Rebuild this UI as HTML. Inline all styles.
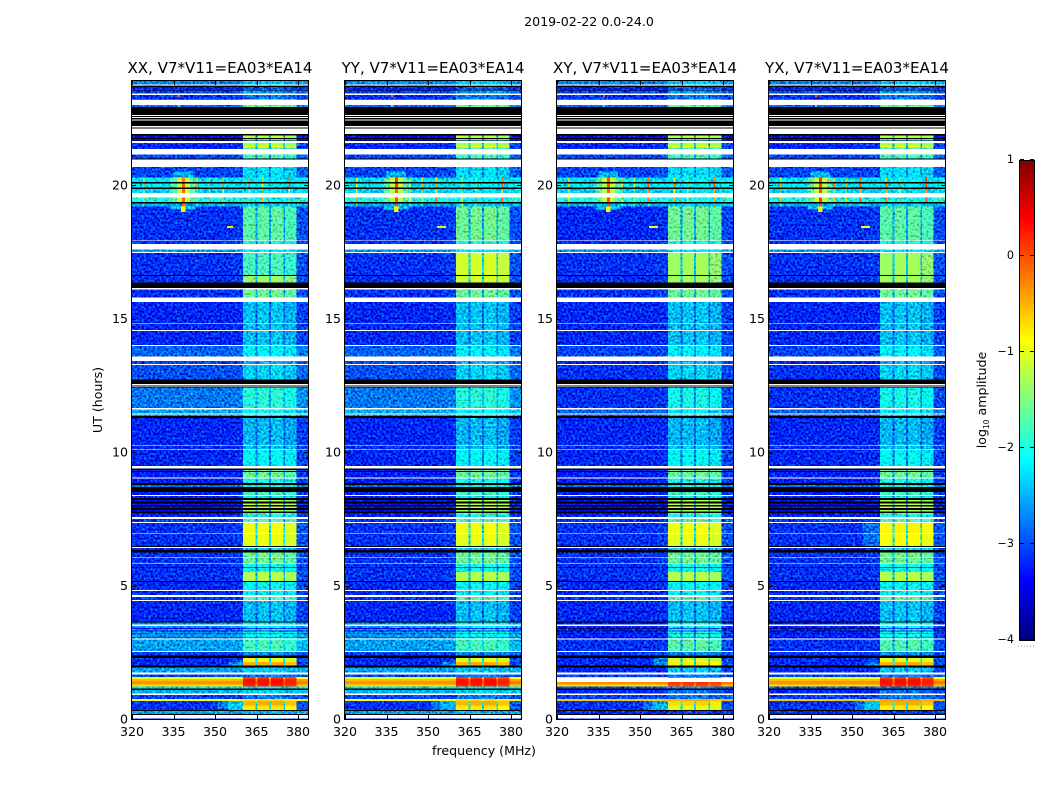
<!DOCTYPE html>
<html lang="en">
<head>
<meta charset="utf-8">
<title>2019-02-22 0.0-24.0</title>
<style>
html,body{margin:0;padding:0;background:#fff;width:1050px;height:800px;overflow:hidden}
svg{display:block}
text{font-family:"DejaVu Sans","Liberation Sans",sans-serif;fill:#000}
</style>
</head>
<body>
<svg id="figure" xmlns="http://www.w3.org/2000/svg" width="1050" height="800" viewBox="0 0 1050 800">
<defs>
<filter id="grain" x="0" y="0" width="100%" height="100%" color-interpolation-filters="sRGB">
<feTurbulence type="fractalNoise" baseFrequency="0.45" numOctaves="1" seed="7" result="n"/>
<feColorMatrix in="n" type="matrix" values="0 0 0 0 0.5  1 0 0 0 0  1 0 0 0 0  0 0 0 0 1" result="m"/>
<feComposite in="SourceGraphic" in2="m" operator="arithmetic" k1="0" k2="1" k3="1.4" k4="-0.7"/>
</filter>
</defs>
<rect width="1050" height="800" fill="#fff"/>
<text x="589" y="26" font-size="12.6" text-anchor="middle">2019-02-22 0.0-24.0</text>
<text x="102" y="400" font-size="12.6" text-anchor="middle" transform="rotate(-90 102 400)">UT (hours)</text>
<text x="484" y="755" font-size="12.6" text-anchor="middle">frequency (MHz)</text>
<text x="986" y="400" font-size="12.6" text-anchor="middle" transform="rotate(-90 986 400)">log<tspan font-size="7.5" dy="3">10</tspan><tspan dy="-3"> amplitude</tspan></text>
</svg>
<script>
// ---- axis categories and tick labels ----
const panelTitles = ["XX, V7*V11=EA03*EA14","YY, V7*V11=EA03*EA14","XY, V7*V11=EA03*EA14","YX, V7*V11=EA03*EA14"];
const freqTicks = [320,335,350,365,380];
const timeTicks = [0,5,10,15,20];
const colorTicks = [1,0,-1,-2,-3,-4];
const W = null, K = -99; // W: masked (white), K: zero data (black)

// ---- time rows, top edge in UT hours, listed top to bottom ----
const rowTop = [
23.90,23.77,23.73,23.71,23.67,23.55,23.53,23.42,23.38,23.23,23.19,23.00,22.92,22.63,22.58,22.55,22.51,22.46,22.42,22.21,
22.15,22.11,21.91,21.86,21.76,21.72,21.67,21.64,21.58,21.47,21.41,21.34,21.15,21.00,20.95,20.67,20.29,20.11,20.06,19.91,
19.85,19.70,19.54,19.36,19.31,19.20,17.93,17.90,17.79,17.59,17.49,17.45,16.62,16.59,16.34,16.14,16.09,15.79,15.62,14.83,
14.81,14.57,14.54,14.00,13.97,13.57,13.40,13.30,13.26,12.71,12.55,12.51,12.49,12.45,12.41,11.65,11.60,11.45,11.41,11.35,
11.28,10.25,10.22,10.11,10.09,9.48,9.39,9.33,9.29,9.25,9.04,9.00,8.83,8.76,8.69,8.51,8.39,8.35,8.27,8.21,
8.14,8.08,8.02,7.96,7.90,7.83,7.77,7.71,7.65,7.57,7.50,7.38,7.34,6.95,6.93,6.48,6.44,6.40,6.33,6.24,
6.07,6.04,5.83,5.81,5.70,5.68,5.51,5.17,5.14,4.83,4.79,4.64,4.57,4.46,4.42,3.66,3.61,3.53,3.49,3.40,
3.38,3.32,3.28,3.21,3.18,3.08,3.05,3.01,2.97,2.55,2.51,2.37,2.28,2.14,2.00,1.92,1.75,1.67,1.58,1.49,
1.42,1.30,1.21,1.14,1.09,0.96,0.90,0.75,0.67,0.50,0.34,0.30,0.19,0.15,0.02
];
// ---- log10 amplitude of the band-free background, per row ----
const rowBg = [
-2.6,W,-3.0,K,-3.1,K,-2.9,W,-3.0,-2.6,W,-2.7,K,W,K,W,K,W,K,W,
K,W,K,-3.3,K,-3.3,K,W,-3.0,-3.2,-3.0,W,-2.9,K,W,-2.9,-2.1,K,-2.1,K,
-2.2,W,-2.0,K,-2.4,-3.0,W,-3.0,W,-2.5,W,-3.0,K,-3.0,K,W,-3.0,W,-3.05,W,
-3.05,W,-3.05,W,-2.75,W,-2.9,W,-2.85,K,W,K,W,K,-2.65,W,-2.4,W,-2.5,K,
-3.05,W,-3.05,W,-3.05,W,K,-3.1,K,-3.1,W,-3.1,K,-2.7,K,-3.1,W,-3.1,K,-3.2,
K,-3.2,K,-3.2,K,-3.2,K,-3.2,-3.05,W,-3.0,W,-3.0,W,-3.0,K,W,-3.1,K,-3.0,
W,-3.0,W,-3.0,K,-3.0,-3.0,K,-3.05,W,-3.05,W,-3.0,W,-3.05,K,-2.6,W,-2.5,-3.3,
-2.5,-3.3,-2.5,-3.3,-2.5,-3.3,-2.5,W,-2.45,W,-2.95,K,-3.05,-3.05,K,-2.45,W,-2.9,-1.0,-0.55,
-0.35,-0.7,-2.1,K,-2.35,W,-2.9,-0.9,-3.0,-3.0,K,-2.45,K,W,-3.0
];
// ---- log10 amplitude inside the four bright sub-bands, per row ----
const rowHi = [
-2.3,W,-2.8,K,-2.9,K,-2.5,W,-2.7,-1.9,W,-1.6,K,W,K,W,K,W,K,W,
K,W,K,-1.2,K,-1.8,K,W,-1.3,-1.0,-1.7,W,-1.8,K,W,-2.2,-2.1,K,-2.1,K,
-2.2,W,-2.0,K,-2.3,-1.7,W,-1.9,W,-2.1,W,-1.35,K,-1.35,K,W,-1.6,W,-2.35,W,
-2.35,W,-2.35,W,-2.1,W,-2.4,W,-2.25,K,W,K,W,K,-1.85,W,-2.0,W,-2.2,K,
-2.4,W,-2.35,W,-2.05,W,K,-1.6,K,-1.6,W,-1.9,K,-2.0,K,-1.8,W,-2.0,K,-1.3,
K,-1.2,K,-1.2,K,-1.3,K,-1.6,-2.0,W,-1.7,W,-0.95,W,-1.0,K,W,-2.2,K,-1.6,
W,-1.6,W,-1.9,K,-2.0,-1.25,K,-2.0,W,-2.1,W,-1.7,W,-2.35,K,-2.1,W,-2.0,-3.0,
-2.0,-3.0,-2.0,-3.0,-2.0,-3.0,-2.0,W,-1.8,W,-2.6,K,-1.0,-0.5,K,-2.3,W,-2.7,0.1,0.3,
0.3,0.2,-2.1,K,-2.25,W,-2.7,-0.7,-0.5,-0.8,K,-2.4,K,W,-2.6
];

// ---- frequency columns (MHz) ----
const freqEdges = [320,352,356,360.2,364.7,365.4,369.5,370.2,374.7,375.3,379.5,383.7];
const columnMix = [0,0,0.03,1,0.4,1,0.4,1,0.4,1,0.03];
const columnShift = [0,0,0,0,0,0.03,0,0.04,0,-0.07,0.1];

// ---- per-panel level changes: utTop, utBottom, bgDelta, hiDelta ----
const xxAdjust = [[17.45,16.62,0,-0.45],[16.59,16.34,0,-0.05]];
const yyAdjust = [[19.2,17.93,0,0.1],[17.45,16.34,0,0.25]];
const xyAdjust = [[12.41,11.28,-0.35,-0.1],[13.97,12.71,-0.15,0],[3.61,2.51,-0.55,0.1],[1.92,1.67,-0.6,0],[1.21,0.9,-0.7,-0.5],[0.3,0.19,-0.6,-0.6],[0.75,0.67,0.3,0.2],[19.2,17.93,-0.05,0.1],[2.28,2.14,0,-0.1],[2.14,2.0,0,-0.3],[0.67,0.34,0,-0.2],[1.58,1.21,0,-0.2]];
const yxAdjust = [[12.41,11.28,-0.35,-0.1],[13.97,12.71,-0.15,0],[3.61,2.51,-0.55,0.05],[1.92,1.67,-0.6,0],[1.21,0.9,-0.7,-0.5],[0.3,0.19,-0.6,-0.6],[0.75,0.67,0.3,0.3],[7.34,6.48,0,0.1]];
const panelAdjust = [xxAdjust,yyAdjust,xyAdjust,yxAdjust];
const bgDarken = -0.15, hiDarken = -0.1;

// ---- local patches: f0, f1, utTop, utBottom, level ----
const xxPatches = [[354.5,360.2,0.67,0.34,-2.4],[351,354.5,0.67,0.34,-2.8],[355,360.2,2.14,2.0,-2.6],[354.3,356.5,18.46,18.39,-0.8]];
const yyPatches = [[354.5,360.2,0.67,0.34,-2.5],[351,354.5,0.67,0.34,-2.85],[355,360.2,2.14,2.0,-2.7],[353.2,356.5,18.46,18.39,-0.8]];
const xyPatches = [[354.5,360.2,0.67,0.34,-2.5],[351,354.5,0.67,0.34,-2.85],[355,360.2,2.28,2.0,-2.7],[353.2,356.5,18.46,18.39,-0.9]];
const yxPatches = [[354.5,360.2,0.67,0.34,-2.4],[351,354.5,0.67,0.34,-2.8],[355,360.2,2.14,2.0,-2.7],[354,360.2,7.34,6.48,-2.85],[353.2,356.5,18.46,18.39,-0.9]];
const panelPatches = [xxPatches,yyPatches,xyPatches,yxPatches];
const sharedPatches = [[335,342,20.5,20.29,-2.5],[334,343,19.2,19.08,-2.4],[334,343,20.29,19.31,-1.7],[336.3,341,20.29,19.31,-1.2],[337.8,339.4,19.2,18.98,-0.9],[336.6,337.4,23.38,23.28,-0.1],[336.6,337.4,23.0,22.92,-2.0]];
const maskBands = [[],[],[[1.53,1.38]],[]];

// ---- narrow interference spikes ----
const spikeFreqs = [324.2,338.6,343.5,348,353,362.3,367.3,376.8];
const spikeTop = [20.29,20.06,19.85,19.54,19.31];
const spikeBottom = [20.11,19.91,19.70,19.36,19.20];
const xxSpikes = [[-0.7,-0.2,-1.6,-1.8,-0.5,-0.3,-1.5,-0.2],[-0.5,-0.1,-0.4,-1.5,-0.3,-0.2,-0.9,-0.1],[-1.5,-0.1,-1.7,-1.8,-1.0,-1.5,-1.6,-0.9],[-0.7,-0.1,-1.5,-1.5,-0.5,-0.6,-0.6,-0.5],[-1.8,-0.2,-2,-2,-2,-2,-2,-2]];
const yySpikes = [[-1.2,0.1,-1.6,-1.3,-0.8,-1.5,-1.6,-0.2],[-0.8,0.1,-1.3,-0.4,-0.3,-1.6,-0.5,0.0],[-1.3,-0.1,-1.7,-1.6,-1.3,-1.8,-1.5,-1.2],[-0.4,0.0,-1.0,-1.2,-0.1,-1.0,-0.2,-0.1],[-1.6,0.0,-1.9,-2,-1.9,-1.2,-1.6,-2]];
const xySpikes = [[-1.5,0.0,-1.6,-1.5,-0.2,-1.2,-1.5,-0.2],[-0.6,0.0,-0.7,-0.8,0.0,-0.2,-0.4,0.0],[-1.7,-0.1,-1.8,-1.7,-0.3,-0.8,-1.5,-0.6],[-0.8,0.0,-1.4,-1.3,-0.2,-0.5,-0.9,-0.5],[-1.9,0.0,-2,-2,-2,-2,-2,-2]];
const yxSpikes = [[-1.3,0.1,-1.5,-1.5,-0.1,-0.6,-1.5,0.1],[-0.5,0.1,-0.2,-0.6,0.0,-0.1,-0.2,0.1],[-1.6,0.0,-1.7,-1.7,-0.5,-0.4,-1.0,-0.3],[-0.5,0.1,-0.6,-1.2,0.0,-0.2,-0.4,0.0],[-1.8,0.0,-2,-2,-2,-2,-2,-2]];
const panelSpikes = [xxSpikes,yySpikes,xySpikes,yxSpikes];

// ---- layout and axis functions ----
const panelLeft = [132,345,557,769];
const svgNS = "http://www.w3.org/2000/svg";
const fig = document.getElementById("figure");
const plotBottom = 719, plotTop = 81, plotWidth = 176;
const pxPerMHz = 41.5/15, pxPerHour = 26.7;
const xScale = (p,f) => panelLeft[p] + (f-320)*pxPerMHz;
const yScale = t => plotBottom - t*pxPerHour;
const cbTop = 160, cbBottom = 640, cbLeft = 1020, cbRight = 1034;
const cbScale = v => cbBottom - (v+4)*(cbBottom-cbTop)/5;

function jet(v){
  const t = Math.max(0,Math.min(1,(v+4)/5));
  const ch = c => Math.round(255*Math.max(0,Math.min(1,1.5-Math.abs(4*t-c))));
  return "rgb("+ch(3)+","+ch(2)+","+ch(1)+")";
}
function make(tag,attrs,parent){
  const el = document.createElementNS(svgNS,tag);
  for(const k in attrs) el.setAttribute(k,attrs[k]);
  parent.appendChild(el);
  return el;
}
function cell(group,x0,x1,y0,y1,fill){
  const r = make("rect",{x:x0,y:y0,width:Math.max(x1-x0,0.5),height:Math.max(y1-y0,0.5),fill:fill,"shape-rendering":"crispEdges"},group);
  
  
  return r;
}

panelTitles.forEach((title,p)=>{
  const g = make("g",{},fig);
  
  
  const cells = make("g",{filter:"url(#grain)"},g);
  
  
  const strong = make("g",{},g);
  
  
  const masked = make("g",{},g);
  
  
  const target = v => v > -1.4 ? strong : cells;
  const xEnd = panelLeft[p]+plotWidth;
  const patches = sharedPatches.concat(panelPatches[p]);
  spikeTop.forEach((top,i)=>{
    spikeFreqs.forEach((f,j)=>{
      const hw = j===1 ? 0.55 : 0.28;
      patches.push([f-hw,f+hw,top,spikeBottom[i],panelSpikes[p][i][j]]);
    });
  });
  rowTop.forEach((top,i)=>{
    const bottom = i+1<rowTop.length ? rowTop[i+1] : 0;
    const y0 = yScale(top), y1 = yScale(bottom);
    let bg = rowBg[i], hi = rowHi[i];
    if(bg===W) { cell(masked,panelLeft[p],xEnd,y0,y1,"#fff"); return; }
    if(bg===K) { cell(masked,panelLeft[p],xEnd,y0,y1,"#000"); return; }
    const mid = (top+bottom)/2;
    panelAdjust[p].forEach(a=>{ if(mid<=a[0] && mid>=a[1]){ bg+=a[2]; hi+=a[3]; } });
    if(bg < -2) bg += bgDarken;
    if(hi < -1.8) hi += hiDarken;
    for(let c=0;c<columnMix.length;c++){
      const v = bg + columnMix[c]*(hi-bg) + columnShift[c];
      cell(target(v),xScale(p,freqEdges[c]),Math.min(xScale(p,freqEdges[c+1]),xEnd),y0,y1,jet(v));
    }
    patches.forEach(q=>{
      const t0 = Math.min(q[2],top), t1 = Math.max(q[3],bottom);
      if(t0>t1) cell(target(q[4]),xScale(p,q[0]),xScale(p,q[1]),yScale(t0),yScale(t1),jet(q[4]));
    });
  });
  maskBands[p].forEach(b=>cell(masked,panelLeft[p],xEnd,yScale(b[0]),yScale(b[1]),"#fff"));

  const frame = make("rect",{x:panelLeft[p]-0.5,y:plotTop-0.5,width:plotWidth+1,height:plotBottom-plotTop+1,fill:"none",stroke:"#000","stroke-width":1},g);
  
  

  freqTicks.forEach(f=>{
    const x = Math.round(xScale(p,f))+0.5;
    const a = make("line",{x1:x,x2:x,y1:plotBottom,y2:plotBottom-4,stroke:"#000"},g);
    
    
    const b = make("line",{x1:x,x2:x,y1:plotTop,y2:plotTop+4,stroke:"#000"},g);
    
    
    const t = make("text",{x:xScale(p,f),y:736,"font-size":12.6,"text-anchor":"middle"},g);
    
    
    t.textContent = f;
  });
  timeTicks.forEach(v=>{
    const y = Math.round(yScale(v))+0.5;
    const a = make("line",{x1:panelLeft[p],x2:panelLeft[p]+4,y1:y,y2:y,stroke:"#000"},g);
    
    
    const b = make("line",{x1:xEnd,x2:xEnd-4,y1:y,y2:y,stroke:"#000"},g);
    
    
    const t = make("text",{x:panelLeft[p]-4,y:yScale(v)+4.5,"font-size":12.6,"text-anchor":"end"},g);
    
    
    t.textContent = v;
  });
  const ttl = make("text",{x:panelLeft[p]+88,y:73,"font-size":15.05,"text-anchor":"middle"},g);
  
  
  ttl.textContent = title;
});

// ---- colorbar ----
const cb = make("g",{},fig);


for(let y=cbTop;y<cbBottom;y+=2){
  const v = -4 + (cbBottom-y-1)/(cbBottom-cbTop)*5;
  const s = make("rect",{x:cbLeft,y:y,width:cbRight-cbLeft,height:2,fill:jet(v),"shape-rendering":"crispEdges"},cb);
  
  
}
const cbFrame = make("rect",{x:cbLeft-0.5,y:cbTop+0.5,width:cbRight-cbLeft+1,height:cbBottom-cbTop,fill:"none",stroke:"#000"},cb);


colorTicks.forEach(v=>{
  const y = Math.round(cbScale(v))-0.5;
  const a = make("line",{x1:cbLeft,x2:cbLeft+4,y1:y,y2:y,stroke:"#000"},cb);
  
  
  const b = make("line",{x1:cbRight,x2:cbRight-4,y1:y,y2:y,stroke:"#000"},cb);
  
  
  const t = make("text",{x:1014,y:cbScale(v)+3,"font-size":11.2,"text-anchor":"end"},cb);
  
  
  t.textContent = v<0 ? "\u2212"+(-v) : v;
});
const dots = make("line",{x1:1018,x2:1035,y1:646,y2:646,stroke:"#999","stroke-dasharray":"1 2"},cb);


</script>
</body>
</html>
